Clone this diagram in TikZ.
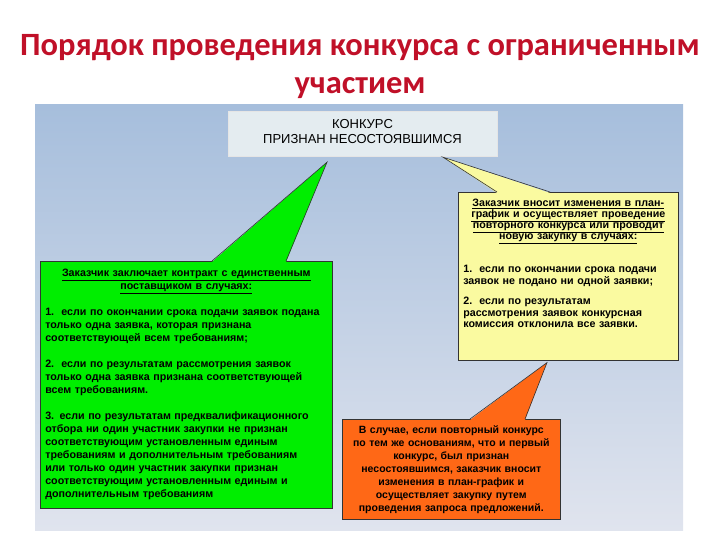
\documentclass[tikz,border=0pt]{standalone}
\usepackage{fontspec}
\setmainfont{Liberation Sans}
\newfontfamily\titlefont{Carlito}
\usetikzlibrary{positioning, calc}

\definecolor{panelTop}{RGB}{166,190,220}
\definecolor{panelBottom}{RGB}{224,228,238}
\definecolor{titleRed}{RGB}{192,16,40}
\definecolor{headGray}{RGB}{228,236,240}
\definecolor{boxGreen}{RGB}{0,238,0}
\definecolor{boxYellow}{RGB}{250,250,160}
\definecolor{boxOrange}{RGB}{255,104,22}

\tikzset{
heading/.style={
    align=center,
    text=titleRed,
    font=\titlefont\bfseries\fontsize{32.5}{38}\selectfont
},
resultbox/.style={
    rectangle,
    fill=headGray,
    draw=white!80!gray,
    align=center,
    font=\fontsize{13}{15}\selectfont
},
casebox/.style={
    rectangle,
    draw=black!80,
    line width=0.6pt,
    anchor=north west,
    inner xsep=5pt,
    inner ysep=3pt,
    align=left,
    font=\bfseries\fontsize{10.7}{13}\selectfont
},
pointer/.style={draw=black!80, line width=0.6pt}
}

\begin{document}
\begin{tikzpicture}[x=1pt, y=-1pt]
    \useasboundingbox (0,0) rectangle (720,540);

    % background panel
    \shade[top color=panelTop, bottom color=panelBottom] (35,105) rectangle (683,530);

    % title
    \node[heading] (title) at (360,67) {Порядок проведения конкурса с ограниченным\\участием};

    % node placement
    \node[resultbox, minimum width=269, minimum height=45] (failed) at (362.5,133.5)
        {КОНКУРС\\ПРИЗНАН НЕСОСТОЯВШИМСЯ\\[-11pt]};

    \node[casebox, fill=boxGreen, text width=282, minimum height=247] (single) at (40,261) {%
        {\centering\underline{Заказчик заключает контракт с единственным}\\
        \underline{поставщиком в случаях:}\par}
        \vspace{13pt}
        1.\ \ если по окончании срока подачи заявок подана\\
        только одна заявка, которая признана\\
        соответствующей всем требованиям;\par
        \vspace{13pt}
        2.\ \ если по результатам рассмотрения заявок\\
        только одна заявка признана соответствующей\\
        всем требованиям.\par
        \vspace{13pt}
        3. если по результатам предквалификационного\\
        отбора ни один участник закупки не признан\\
        соответствующим установленным единым\\
        требованиям и дополнительным требованиям\\
        или только один участник закупки признан\\
        соответствующим установленным единым и\\
        дополнительным требованиям};

    \node[casebox, fill=boxYellow, text width=210, minimum height=168,
          font=\bfseries\fontsize{10.7}{11.5}\selectfont] (repeat) at (458,192) {%
        {\centering\fontsize{10.7}{11}\selectfont
        \underline{Заказчик вносит изменения в план-}\\
        \underline{график и осуществляет проведение}\\
        \underline{повторного конкурса или проводит}\\
        \underline{новую закупку в случаях:}\par}
        \vspace{20pt}
        1.\ \ если по окончании срока подачи\\
        заявок не подано ни одной заявки;\par
        \vspace{9pt}
        2.\ \ если по результатам\\
        рассмотрения заявок конкурсная\\
        комиссия отклонила все заявки.\par
        \vspace{14pt}\null};

    \node[casebox, fill=boxOrange, text width=212, inner xsep=3pt, minimum height=100, align=center,
          font=\bfseries\fontsize{10.5}{13}\selectfont] (quote) at (342,419) {%
        В случае, если повторный конкурс\\
        по тем же основаниям, что и первый\\
        конкурс, был признан\\
        несостоявшимся, заказчик вносит\\
        изменения в план-график и\\
        осуществляет закупку путем\\
        проведения запроса предложений.};

    % pointers
    \coordinate (tipSingle) at ($(failed.south)+(-35.5,6)$);
    \coordinate (tipRepeat) at ($(failed.south)+(80.5,1)$);
    \coordinate (tipQuote) at ($(repeat.south west)+(89,2)$);

    \fill[boxGreen] ($(single.north west)+(172,1)$) -- (tipSingle) -- ($(single.north west)+(246,1)$) -- cycle;
    \draw[pointer] ($(single.north west)+(172,0)$) -- (tipSingle) -- ($(single.north west)+(246,0)$);

    \fill[boxYellow] ($(repeat.north west)+(39,1)$) -- (tipRepeat) -- ($(repeat.north west)+(92,1)$) -- cycle;
    \draw[pointer] ($(repeat.north west)+(39,0)$) -- (tipRepeat) -- ($(repeat.north west)+(92,0)$);

    \fill[boxOrange] ($(quote.north west)+(128,1)$) -- (tipQuote) -- ($(quote.north west)+(183,1)$) -- cycle;
    \draw[pointer] ($(quote.north west)+(128,0)$) -- (tipQuote) -- ($(quote.north west)+(183,0)$);

\end{tikzpicture}
\end{document}
